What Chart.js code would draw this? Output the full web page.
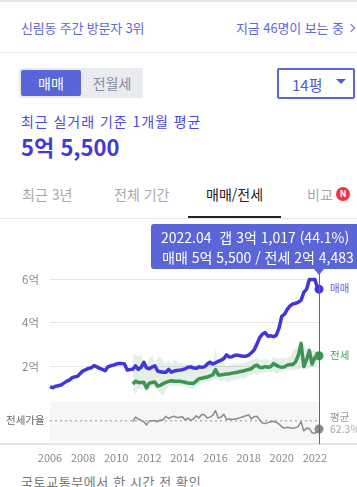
<!DOCTYPE html>
<html lang="ko">
<head>
<meta charset="utf-8">
<title>매매/전세</title>
<script src="https://cdn.jsdelivr.net/npm/chart.js@4"></script>
<style>
html, body { margin: 0; padding: 0; background: #fff; }
body { width: 357px; height: 487px; position: relative; overflow: hidden; font-family: "Noto Sans CJK KR", "Noto Sans", sans-serif; }
.abs { position: absolute; white-space: nowrap; line-height: 1; }
.rule { position: absolute; left: 0; width: 357px; background: #e6e6e6; }
#chartBox { position: absolute; left: 0; top: 220px; width: 357px; height: 250px; }
.tab { top: 187px; font-size: 14px; color: #a8a8a8; }
</style>
</head>
<body>
<div class="rule" style="top:0;height:2px"></div>
<div class="abs" style="left:21px;top:21px;font-size:13px;letter-spacing:-.2px;color:#5f68d8">신림동 주간 방문자 3위</div>
<div class="abs" style="left:236px;top:21px;font-size:13px;letter-spacing:-.1px;color:#5f68d8">지금 46명이 보는 중</div>
<div class="abs" style="left:348px;top:25px;width:6px;height:6px;box-sizing:border-box;border-top:1px solid #5f68d8;border-right:1px solid #5f68d8;transform:rotate(45deg)"></div>
<div class="rule" style="top:52px;height:1px"></div>

<div class="abs" style="left:19px;top:68px;width:124px;height:30px;background:#e9ebee;border-radius:2px"></div>
<div class="abs" style="left:21px;top:70px;width:60px;height:26px;background:#5a65d8;border-radius:2px;color:#fff;font-size:14px;line-height:26px;text-align:center">매매</div>
<div class="abs" style="left:81px;top:70px;width:62px;height:26px;color:#858b99;font-size:14px;line-height:26px;text-align:center">전월세</div>
<div class="abs" style="left:277px;top:68px;width:78px;height:31px;box-sizing:border-box;border:2px solid #5a65d8;border-radius:2px"></div>
<div class="abs" style="left:292px;top:77px;font-size:15px;color:#4f5ad0">14평</div>
<div class="abs" style="left:336px;top:79px;width:0;height:0;border-left:5px solid transparent;border-right:5px solid transparent;border-top:5px solid #4f5ad0"></div>

<div class="abs" style="left:21px;top:114px;font-size:14px;letter-spacing:.95px;color:#5048dc">최근 실거래 기준 1개월 평균</div>
<div class="abs" style="left:21px;top:135px;font-size:22px;font-weight:700;color:#4338dd">5억 5,500</div>

<div class="abs tab" style="left:22px">최근 3년</div>
<div class="abs tab" style="left:114px">전체 기간</div>
<div class="abs tab" style="left:206px;color:#222">매매/전세</div>
<div class="abs tab" style="left:307px">비교</div>
<div class="abs" style="left:336px;top:187px;width:14px;height:14px;border-radius:50%;background:#f5333f;color:#fff;font-size:9px;font-weight:700;line-height:14px;text-align:center">N</div>
<div class="rule" style="top:218px;height:1px"></div>
<div class="abs" style="left:188px;top:216px;width:93px;height:2px;background:#222"></div>

<div class="rule" style="top:443px;height:2px"></div>
<div id="chartBox"><canvas id="priceChart" width="357" height="250"></canvas></div>

<div class="abs" style="left:151px;top:224px;width:206px;height:45px;background:#5a65d8;border-radius:3px 0 0 3px"></div>
<div class="abs" style="left:314px;top:269px;width:0;height:0;border-left:5px solid transparent;border-right:5px solid transparent;border-top:6px solid #5a65d8"></div>
<div class="abs" style="left:161px;top:230px;font-size:14px;color:#fff">2022.04&nbsp; 갭 3억 1,017 (44.1%)</div>
<div class="abs" style="left:162px;top:250px;font-size:14px;color:#fff">매매 5억 5,500 / 전세 2억 4,483</div>

<div class="abs" style="left:330px;top:283px;font-size:10.5px;color:#5a5fd8">매매</div>
<div class="abs" style="left:330px;top:350px;font-size:10.5px;color:#4f9a66">전세</div>
<div class="abs" style="left:330px;top:412px;font-size:10.5px;color:#999">평균</div>
<div class="abs" style="left:330px;top:424px;font-size:10.5px;color:#aaa">62.3%</div>
<div class="abs" style="left:6px;top:415px;font-size:10.5px;color:#666">전세가율</div>
<div class="abs" style="left:21px;top:475px;font-size:13px;letter-spacing:.6px;color:#777">국토교통부에서 한 시간 전 확인</div>

<script>
// 2006.01 부터 2달 간격, 마지막만 2022.04
const sale = [
    1.05, 1.01, 1.08, 1.10, 1.13, 1.22, 1.30, 1.36, 1.47, 1.51,
    1.54, 1.67, 1.79, 1.84, 1.90, 1.93, 2.03, 1.97, 1.90, 1.85,
    1.79, 1.97, 2.02, 2.05, 2.10, 2.13, 2.13, 2.10, 1.82, 1.85,
    1.86, 2.02, 1.85, 1.95, 2.18, 1.92, 1.88, 1.96, 2.02, 1.78,
    1.74, 1.72, 1.72, 1.85, 1.72, 1.78, 1.80, 1.82, 1.84, 1.88,
    1.95, 1.97, 1.92, 1.90, 1.97, 1.95, 1.97, 2.10, 2.18, 2.10,
    2.16, 2.22, 2.28, 2.35, 2.52, 2.42, 2.44, 2.50, 2.51, 2.48,
    2.46, 2.46, 2.51, 2.62, 2.75, 3.02, 3.32, 3.48, 3.55, 3.38,
    3.40, 3.36, 3.42, 3.75, 4.30, 4.40, 4.62, 4.78, 4.87, 4.90,
    4.95, 5.05, 5.40, 5.55, 6.00, 6.00, 6.00, 5.60, 5.55
];
// 전세 계열은 2011.01 부터
const jeonseOffset = 30;
const jeonse = [
    1.18, 1.31, 1.25, 1.25, 1.26, 1.00, 1.22, 1.25, 1.27, 1.08,
    1.12, 1.20, 1.25, 1.30, 1.33, 1.31, 1.31, 1.31, 1.28, 1.26,
    1.22, 1.21, 1.20, 1.32, 1.42, 1.44, 1.48, 1.50, 1.55, 1.60,
    1.85, 1.60, 1.60, 1.62, 1.64, 1.65, 1.68, 1.70, 1.72, 1.76,
    1.78, 1.82, 1.85, 1.88, 2.00, 2.05, 1.95, 1.93, 1.98, 1.95,
    1.98, 2.12, 2.05, 1.98, 1.95, 1.97, 2.05, 2.08, 2.08, 2.20,
    2.50, 3.05, 1.98, 2.30, 2.72, 2.10, 2.40, 2.46, 2.48
];
const jeonseHigh = [
    2.50, 2.50, 2.45, 2.55, 2.00, 1.95, 2.35, 2.50, 2.00, 2.40,
    2.45, 2.25, 2.10, 2.30, 2.10, 2.35, 2.20, 2.10, 2.15, 2.10,
    2.10, 2.05, 2.15, 2.00, 2.10, 2.05, 2.10, 2.10, 2.40, 2.00,
    2.85, 2.10, 2.20, 2.10, 2.00, 2.05, 2.10, 2.10, 2.10, 2.15,
    2.10, 2.20, 2.20, 2.30, 2.30, 2.40, 2.30, 2.30, 2.35, 2.30,
    2.25, 2.45, 2.35, 2.35, 2.40, 2.35, 2.40, 2.45, 2.70, 2.80,
    2.90, 3.20, 3.00, 2.80, 3.00, 2.70, 2.75, 2.60, 2.60
];
const jeonseLow = [
    1.00, 0.65, 1.00, 0.90, 1.05, 0.70, 1.00, 1.05, 1.10, 0.85,
    0.75, 0.60, 0.95, 1.10, 1.10, 1.10, 1.10, 1.10, 1.10, 1.05,
    1.00, 0.95, 1.00, 1.05, 1.15, 1.20, 1.25, 1.30, 1.30, 1.35,
    1.40, 1.35, 1.30, 1.40, 1.25, 1.30, 1.35, 1.35, 1.40, 1.45,
    1.45, 1.45, 1.60, 1.60, 1.70, 1.60, 1.65, 1.70, 1.70, 1.75,
    1.70, 1.75, 1.65, 1.70, 1.75, 1.80, 1.80, 1.85, 1.80, 1.85,
    1.85, 1.90, 1.90, 1.85, 1.90, 2.00, 1.95, 2.10, 2.10
];
const ratio = [
    60, 70, 66, 63, 60, 53, 62, 62, 62, 60,
    64, 64, 72, 67, 70, 72, 69, 70, 71, 64,
    68, 63, 66, 73, 68, 76, 75, 68, 70, 74,
    84, 68, 70, 76, 65, 66, 65, 66, 67, 69,
    71, 73, 75, 66, 71, 72, 64, 57, 56, 58,
    60, 61, 59, 55, 49, 46, 48, 47, 46, 47,
    50, 60, 40, 46, 45, 36, 35, 40, 44.1
];
const ratioAverage = 62.3;
const yearTicks = [2006, 2008, 2010, 2012, 2014, 2016, 2018, 2020, 2022];
const priceTicks = [2, 4, 6];

const periods = sale.map((v, i) => i < sale.length - 1 ? 2006 + i / 6 : 2022.25);
const firstYear = periods[0];
const lastYear = periods[periods.length - 1];

function toPoints(values, offset) {
    return values.map((v, i) => ({ x: periods[i + offset], y: v }));
}

function lastDot(ctx) {
    return ctx.dataIndex === ctx.dataset.data.length - 1 ? 4.5 : 0;
}

const lineDefaults = { borderJoinStyle: 'round', tension: 0, clip: false, pointBorderWidth: 0, pointHoverRadius: 0 };

// 전세가율 배경, 현재 시점 세로선
const chartDecor = {
    id: 'chartDecor',
    beforeDatasetsDraw(chart) {
        const y2 = chart.scales.y2;
        const x = chart.scales.x;
        chart.ctx.save();
        chart.ctx.fillStyle = '#f6f6f6';
        chart.ctx.fillRect(x.left, y2.top, x.right - x.left, y2.bottom - y2.top);
        chart.ctx.restore();
    },
    afterDatasetsDraw(chart) {
        const x = Math.floor(chart.scales.x.getPixelForValue(lastYear)) + 0.5;
        const ctx = chart.ctx;
        ctx.save();
        ctx.strokeStyle = '#666';
        ctx.lineWidth = 1;
        ctx.beginPath();
        ctx.moveTo(x, chart.chartArea.top);
        ctx.lineTo(x, chart.chartArea.bottom + 3);
        ctx.stroke();
        ctx.restore();
    }
};

new Chart(document.getElementById('priceChart').getContext('2d'), {
    type: 'line',
    data: {
        datasets: [
            { ...lineDefaults, label: '전세 상단', data: toPoints(jeonseHigh, jeonseOffset), yAxisID: 'y', borderWidth: 0, pointRadius: 0, fill: '+1', backgroundColor: 'rgba(62, 148, 85, 0.14)', order: 5 },
            { ...lineDefaults, label: '전세 하단', data: toPoints(jeonseLow, jeonseOffset), yAxisID: 'y', borderWidth: 0, pointRadius: 0, fill: false, order: 5 },
            { ...lineDefaults, label: '전세', data: toPoints(jeonse, jeonseOffset), yAxisID: 'y', borderColor: '#3d9455', backgroundColor: '#3d9455', borderWidth: 3.5, pointRadius: lastDot, order: 2 },
            { ...lineDefaults, label: '매매', data: toPoints(sale, 0), yAxisID: 'y', borderColor: '#4335dc', backgroundColor: '#4335dc', borderWidth: 3.5, pointRadius: lastDot, order: 1 },
            { ...lineDefaults, label: '평균', data: [{ x: firstYear, y: ratioAverage }, { x: lastYear, y: ratioAverage }], yAxisID: 'y2', borderColor: '#b5b5b5', borderWidth: 1.5, borderDash: [2, 3], pointRadius: 0, order: 4 },
            { ...lineDefaults, label: '전세가율', data: toPoints(ratio, jeonseOffset), yAxisID: 'y2', borderColor: '#8a8a8a', backgroundColor: '#8a8a8a', borderWidth: 1.5, pointRadius: lastDot, order: 3 }
        ]
    },
    options: {
        responsive: false,
        animation: false,
        events: [],
        layout: { padding: { top: 54, right: 38, left: 0, bottom: 0 } },
        plugins: { legend: { display: false }, tooltip: { enabled: false } },
        scales: {
            x: {
                type: 'linear',
                min: firstYear,
                max: lastYear,
                grid: { display: false },
                border: { display: false },
                afterBuildTicks(scale) { scale.ticks = yearTicks.map(v => ({ value: v })); },
                afterFit(scale) { scale.height = 29; },
                ticks: {
                    autoSkip: false,
                    maxRotation: 0,
                    padding: 2,
                    color: '#8a8a8a',
                    font: { family: '"Noto Sans CJK KR"', size: 11 },
                    callback: v => String(v)
                }
            },
            y: {
                type: 'linear',
                stack: 'main',
                stackWeight: 128,
                weight: 1,
                min: 0.35,
                max: 6.25,
                border: { display: false },
                grid: { color: '#e6e6e6', drawTicks: false },
                afterBuildTicks(scale) { scale.ticks = priceTicks.map(v => ({ value: v })); },
                afterFit(scale) { scale.width = 50; },
                ticks: {
                    padding: 11,
                    color: '#8a8a8a',
                    font: { family: '"Noto Sans CJK KR"', size: 11.5 },
                    callback: v => v + '억'
                }
            },
            y2: {
                type: 'linear',
                stack: 'main',
                stackWeight: 39,
                weight: 0,
                min: 18,
                max: 103,
                border: { display: false },
                grid: { display: false },
                afterFit(scale) { scale.width = 50; },
                ticks: { display: false }
            }
        }
    },
    plugins: [chartDecor]
});
</script>
</body>
</html>
